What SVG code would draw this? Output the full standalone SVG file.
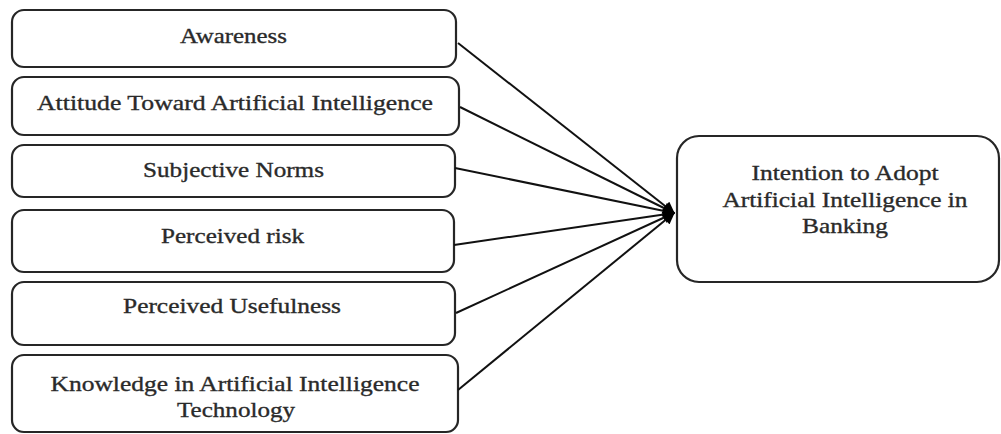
<svg xmlns="http://www.w3.org/2000/svg" width="1001" height="434" viewBox="0 0 1001 434">
<style>
.box{fill:#fff;stroke:#262626;stroke-width:2.2}
.t{font-family:"Liberation Serif","Times New Roman",serif;font-size:22px;fill:#2a2a2a;stroke:#2a2a2a;stroke-width:0.35;text-anchor:middle}
.c{stroke:#111;stroke-width:2;fill:none;marker-end:url(#ah)}
</style>
<defs>
<marker id="ah" viewBox="0 0 10 10" refX="9" refY="5" markerWidth="13" markerHeight="12" markerUnits="userSpaceOnUse" orient="auto">
<path d="M0,0 L10,5 L0,10 z" fill="#000"/>
</marker>
</defs>
<rect width="1001" height="434" fill="#fff"/>
<g id="n1"><rect class="box" x="12" y="10" width="444" height="57" rx="12"/><text class="t" x="233.5" y="43" textLength="107" lengthAdjust="spacingAndGlyphs">Awareness</text></g>
<g id="n2"><rect class="box" x="12" y="77" width="447" height="58" rx="12"/><text class="t" x="235" y="110" textLength="396" lengthAdjust="spacingAndGlyphs">Attitude Toward Artificial Intelligence</text></g>
<g id="n3"><rect class="box" x="12" y="145" width="443" height="52" rx="12"/><text class="t" x="233.5" y="176.5" textLength="181" lengthAdjust="spacingAndGlyphs">Subjective Norms</text></g>
<g id="n4"><rect class="box" x="12" y="210" width="442" height="62" rx="12"/><text class="t" x="232.5" y="243" textLength="143" lengthAdjust="spacingAndGlyphs">Perceived risk</text></g>
<g id="n5"><rect class="box" x="12" y="282" width="443" height="63" rx="12"/><text class="t" x="232" y="313" textLength="218" lengthAdjust="spacingAndGlyphs">Perceived Usefulness</text></g>
<g id="n6"><rect class="box" x="12" y="355" width="446" height="77" rx="12"/><text class="t" x="235" y="391" textLength="369" lengthAdjust="spacingAndGlyphs">Knowledge in Artificial Intelligence</text><text class="t" x="236" y="417" textLength="118" lengthAdjust="spacingAndGlyphs">Technology</text></g>
<g id="target"><rect class="box" x="677" y="136" width="322" height="146" rx="22"/><text class="t" x="845" y="180" textLength="187" lengthAdjust="spacingAndGlyphs">Intention to Adopt</text><text class="t" x="845" y="207" textLength="245" lengthAdjust="spacingAndGlyphs">Artificial Intelligence in</text><text class="t" x="845" y="233" textLength="86" lengthAdjust="spacingAndGlyphs">Banking</text></g>
<g id="connectors">
<line class="c" x1="458" y1="43" x2="674" y2="213"/>
<line class="c" x1="460" y1="107" x2="674" y2="213"/>
<line class="c" x1="455" y1="168" x2="674" y2="213"/>
<line class="c" x1="454" y1="245" x2="674" y2="213"/>
<line class="c" x1="456" y1="313" x2="674" y2="213"/>
<line class="c" x1="458" y1="390" x2="674" y2="213"/>
</g>
</svg>
